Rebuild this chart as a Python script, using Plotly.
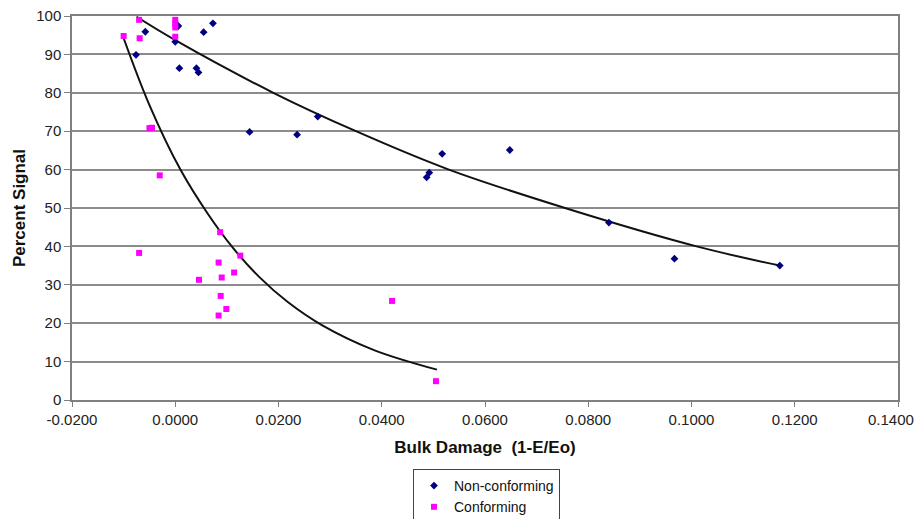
import plotly.graph_objects as go

# Non-conforming (navy diamonds)
nc_x = [-0.0058, 0.0006, 0.0000, -0.0076, 0.0008, 0.0041, 0.0045, 0.0055, 0.0073,
        0.0144, 0.0236, 0.0276, 0.0517, 0.0492, 0.0487, 0.0648, 0.0840, 0.0967, 0.1171]
nc_y = [95.9, 97.4, 93.3, 89.9, 86.4, 86.4, 85.3, 95.8, 98.1,
        69.8, 69.1, 73.8, 64.1, 59.2, 58.0, 65.1, 46.2, 36.8, 35.0]

# Conforming (magenta squares)
c_x = [-0.0070, -0.0100, -0.0069, 0.0000, 0.0000, 0.0000, 0.0000, -0.0050, -0.0045,
       -0.0030, -0.0070, 0.0087, 0.0126, 0.0084, 0.0114, 0.0090, 0.0046, 0.0088,
       0.0099, 0.0084, 0.0420, 0.0505]
c_y = [99.0, 94.8, 94.2, 99.0, 98.0, 97.0, 94.6, 70.8, 70.9,
       58.5, 38.3, 43.7, 37.6, 35.8, 33.2, 31.9, 31.3, 27.1,
       23.7, 22.0, 25.8, 4.9]

# Trend lines
nc_trend_x = [-0.0075, 0.0, 0.019, 0.035, 0.053, 0.0755, 0.101, 0.1171]
nc_trend_y = [99.8, 93.7, 80.0, 70.0, 60.0, 50.0, 40.0, 35.0]
c_trend_x = [-0.0101, -0.005, 0.001, 0.0063, 0.0113, 0.0163, 0.0218, 0.0284, 0.0385, 0.0507]
c_trend_y = [94.6, 76.8, 60.0, 48.5, 39.4, 32.0, 25.5, 19.5, 13.0, 7.9]

x_ticks = [-0.02, 0.0, 0.02, 0.04, 0.06, 0.08, 0.10, 0.12, 0.14]
x_tick_labels = ["-0.0200", "0.0000", "0.0200", "0.0400", "0.0600", "0.0800",
                 "0.1000", "0.1200", "0.1400"]
y_ticks = [0, 10, 20, 30, 40, 50, 60, 70, 80, 90, 100]

FONT = "Liberation Sans, Arial, sans-serif"

fig = go.Figure()

fig.add_trace(go.Scatter(x=nc_trend_x, y=nc_trend_y, mode="lines",
                         line=dict(color="#111", width=2, shape="spline", smoothing=1.0),
                         showlegend=False, hoverinfo="skip"))
fig.add_trace(go.Scatter(x=c_trend_x, y=c_trend_y, mode="lines",
                         line=dict(color="#111", width=2, shape="spline", smoothing=1.0),
                         showlegend=False, hoverinfo="skip"))

fig.add_trace(go.Scatter(x=nc_x, y=nc_y, mode="markers", name="Non-conforming",
                         marker=dict(symbol="diamond", color="#000080", size=6)))
fig.add_trace(go.Scatter(x=c_x, y=c_y, mode="markers", name="Conforming",
                         marker=dict(symbol="square", color="#FF00FF", size=6)))

axis_font = dict(family=FONT, size=15, color="#222")

# the last x tick label sits at the right edge; it is drawn right-aligned so it stays inside
axis_ticktext = x_tick_labels[:-1] + [""]
fig.add_annotation(x=x_ticks[-1], xref="x", y=0, yref="paper", text=x_tick_labels[-1],
                   showarrow=False, xanchor="right", yanchor="top", xshift=18, yshift=-9,
                   font=axis_font)

fig.update_layout(
    width=919, height=519,
    margin=dict(l=72, r=21, t=16, b=119, autoexpand=False),
    paper_bgcolor="white", plot_bgcolor="white",
    font=axis_font,
    xaxis=dict(range=[-0.02, 0.14], tickvals=x_ticks, ticktext=axis_ticktext, tickangle=0,
               showgrid=False, zeroline=False, showline=True, linecolor="#808080",
               linewidth=1.5, mirror=True, ticks="outside", ticklen=5, tickcolor="#808080",
               tickfont=axis_font, automargin=False, ticklabeloverflow="allow",
               title=dict(text="<b>Bulk Damage  (1-E/Eo)</b>",
                          font=dict(family=FONT, size=17, color="#111"),
                          standoff=14)),
    yaxis=dict(range=[0, 100], tickvals=y_ticks, showgrid=True, gridcolor="#8c8c8c",
               gridwidth=1.5, zeroline=False, showline=True, linecolor="#808080",
               linewidth=1.5, mirror=True, ticks="outside", ticklen=6, tickcolor="#808080",
               tickfont=axis_font, automargin=False, ticklabeloverflow="allow",
               title=dict(text="<b>Percent Signal</b>",
                          font=dict(family=FONT, size=17, color="#111"),
                          standoff=6)),
    legend=dict(x=(486.5 - 72) / 826, y=-(469 - 400) / 384,
                xanchor="center", yanchor="top", bordercolor="#444", borderwidth=1,
                bgcolor="white", font=dict(family=FONT, size=14, color="#111"),
                itemwidth=30, tracegroupgap=0),
    showlegend=True,
)

# remove the default 8px page margin so the 919x519 figure fills the window exactly
fig.write_html("out.html", config={"displayModeBar": False},
               post_script="document.body.style.margin='0';document.body.style.overflow='hidden';")
